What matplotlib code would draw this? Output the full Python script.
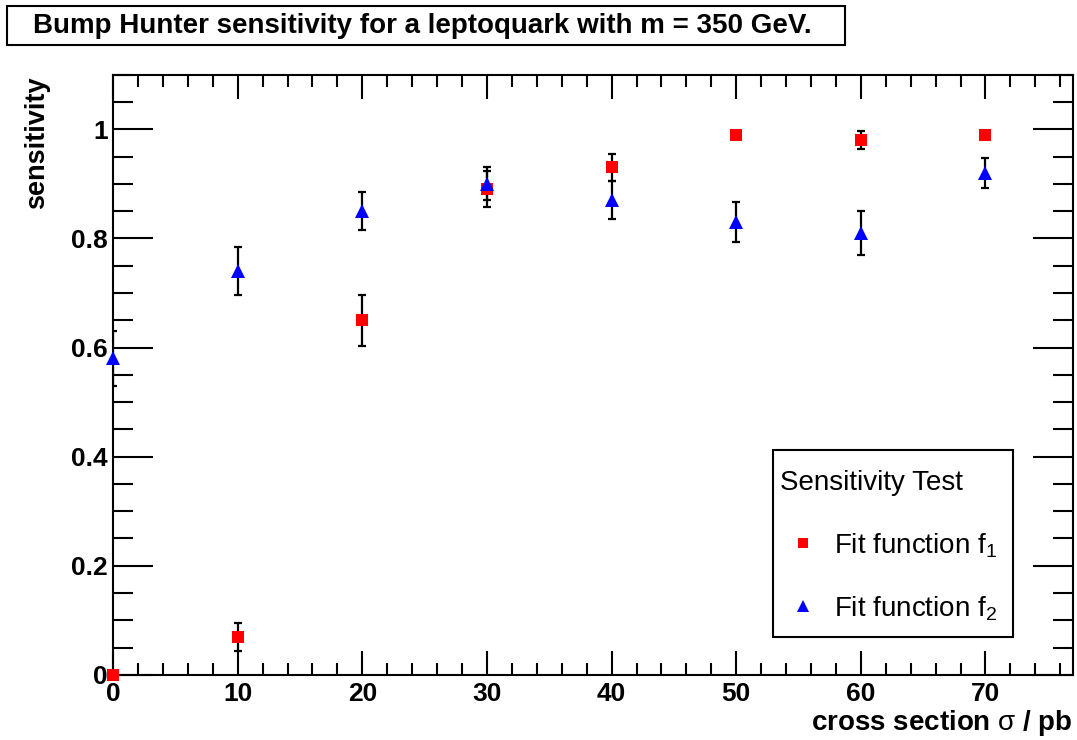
import matplotlib
matplotlib.use("Agg")
import matplotlib.pyplot as plt
from matplotlib.patches import Rectangle
from matplotlib.ticker import MultipleLocator

plt.rcParams['font.family'] = ['Liberation Sans', 'DejaVu Sans']
plt.rcParams['mathtext.fontset'] = 'custom'
plt.rcParams['mathtext.rm'] = 'Liberation Sans'
plt.rcParams['mathtext.it'] = 'Liberation Sans'
plt.rcParams['mathtext.bf'] = 'Liberation Sans:bold'

# cross section points (pb)
xsec = [0, 10, 20, 30, 40, 50, 60, 70]

# fit function f1
sens_f1 = [0.0, 0.07, 0.65, 0.89, 0.93, 0.99, 0.98, 0.99]
err_f1 = [0.0, 0.026, 0.047, 0.033, 0.025, 0.0, 0.017, 0.0]

# fit function f2
sens_f2 = [0.58, 0.74, 0.85, 0.90, 0.87, 0.83, 0.81, 0.92]
err_f2 = [0.05, 0.044, 0.035, 0.030, 0.035, 0.037, 0.040, 0.027]

labels = [r'Fit function f$_1$', r'Fit function f$_2$']

fig = plt.figure(figsize=(10.77, 7.40), dpi=100)
ax = fig.add_axes([0.105, 0.088, 0.891, 0.811])

# error bars first, markers on top
ax.errorbar(xsec, sens_f1, yerr=err_f1, fmt='none', ecolor='black',
            elinewidth=1.6, capsize=3, capthick=1.6, zorder=2)
ax.errorbar(xsec, sens_f2, yerr=err_f2, fmt='none', ecolor='black',
            elinewidth=1.6, capsize=3, capthick=1.6, zorder=2)
sq_style = dict(marker='s', color='#ff0000', markersize=9, markeredgewidth=0)
tri_style = dict(marker='^', color='#0000ff', markersize=9.5, markeredgewidth=0)
ax.plot(xsec, sens_f1, linestyle='none', zorder=3, clip_on=False, **sq_style)
ax.plot(xsec, sens_f2, linestyle='none', zorder=3, clip_on=False, **tri_style)

ax.set_xlim(0, 77)
ax.set_ylim(0, 1.1)
ax.xaxis.set_minor_locator(MultipleLocator(2))
ax.yaxis.set_minor_locator(MultipleLocator(0.05))
ax.set_xticks([0, 10, 20, 30, 40, 50, 60, 70])
ax.set_yticks([0, 0.2, 0.4, 0.6, 0.8, 1.0])
ax.set_yticklabels(['0', '0.2', '0.4', '0.6', '0.8', '1'])

ax.tick_params(which='both', direction='in', top=True, right=True, width=1.5,
               labelsize=19)
ax.tick_params(axis='x', which='major', length=17, pad=5)
ax.tick_params(axis='x', which='minor', length=8.5)
ax.tick_params(axis='y', which='major', length=29, pad=4)
ax.tick_params(axis='y', which='minor', length=14.5)
for lab in ax.get_xticklabels() + ax.get_yticklabels():
    lab.set_fontweight('bold')
for sp in ax.spines.values():
    sp.set_linewidth(1.5)

ax.set_xlabel(r'cross section $\sigma$ / pb', fontsize=20, fontweight='bold',
              ha='right')
ax.xaxis.set_label_coords(1.0, -0.055)
ax.set_ylabel('sensitivity', fontsize=19.5, fontweight='bold', ha='right')
ax.yaxis.set_label_coords(-0.066, 0.997)

# legend box (ROOT TLegend style)
ax.add_patch(Rectangle((0.6875, 0.0633), 0.25, 0.3117, transform=ax.transAxes,
                       facecolor='white', edgecolor='black', linewidth=1.5,
                       zorder=5))
ax.text(0.695, 0.308, 'Sensitivity Test', transform=ax.transAxes,
        fontsize=20, va='baseline', ha='left', zorder=6)
for yrow, style, lab in [(0.22, sq_style, labels[0]), (0.115, tri_style, labels[1])]:
    ax.plot([0.719], [yrow], transform=ax.transAxes, zorder=6, clip_on=False,
            **dict(style, markersize=style['markersize'] * 0.85))
    ax.text(0.751, yrow - 0.017, lab, transform=ax.transAxes, fontsize=20,
            va='baseline', ha='left', zorder=6)

# title box
fig.patches.append(Rectangle((7 / 1077, 1 - 45 / 740), 838 / 1077, 39 / 740,
                             transform=fig.transFigure, facecolor='white',
                             edgecolor='black', linewidth=1.5))
fig.text(33 / 1077, 1 - 26 / 740,
         'Bump Hunter sensitivity for a leptoquark with m = 350 GeV.',
         fontsize=20, fontweight='bold', va='center', ha='left')

fig.savefig('out.png', dpi=100)
